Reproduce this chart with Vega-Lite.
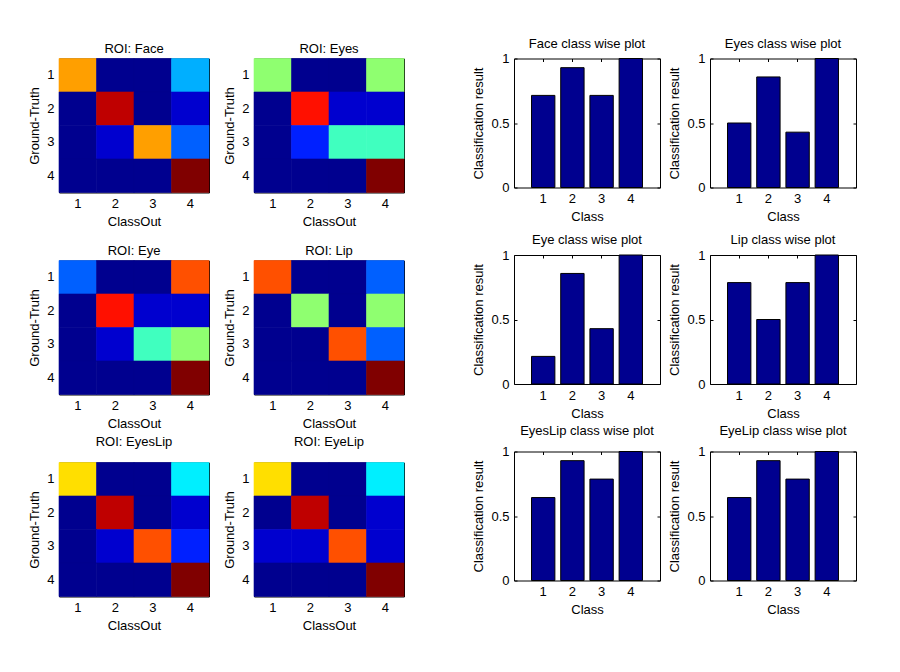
{
  "$schema": "https://vega.github.io/schema/vega-lite/v6.json",
  "background": "white",
  "padding": {"left": 28, "top": 37.5, "right": 5, "bottom": 5},
  "datasets": {
    "hm": [
      {"roi":"Face","gt":1,"out":1,"n":10},{"roi":"Face","gt":1,"out":2,"n":0},{"roi":"Face","gt":1,"out":3,"n":0},{"roi":"Face","gt":1,"out":4,"n":4},
      {"roi":"Face","gt":2,"out":1,"n":0},{"roi":"Face","gt":2,"out":2,"n":13},{"roi":"Face","gt":2,"out":3,"n":0},{"roi":"Face","gt":2,"out":4,"n":1},
      {"roi":"Face","gt":3,"out":1,"n":0},{"roi":"Face","gt":3,"out":2,"n":1},{"roi":"Face","gt":3,"out":3,"n":10},{"roi":"Face","gt":3,"out":4,"n":3},
      {"roi":"Face","gt":4,"out":1,"n":0},{"roi":"Face","gt":4,"out":2,"n":0},{"roi":"Face","gt":4,"out":3,"n":0},{"roi":"Face","gt":4,"out":4,"n":14},
      {"roi":"Eyes","gt":1,"out":1,"n":7},{"roi":"Eyes","gt":1,"out":2,"n":0},{"roi":"Eyes","gt":1,"out":3,"n":0},{"roi":"Eyes","gt":1,"out":4,"n":7},
      {"roi":"Eyes","gt":2,"out":1,"n":0},{"roi":"Eyes","gt":2,"out":2,"n":12},{"roi":"Eyes","gt":2,"out":3,"n":1},{"roi":"Eyes","gt":2,"out":4,"n":1},
      {"roi":"Eyes","gt":3,"out":1,"n":0},{"roi":"Eyes","gt":3,"out":2,"n":2},{"roi":"Eyes","gt":3,"out":3,"n":6},{"roi":"Eyes","gt":3,"out":4,"n":6},
      {"roi":"Eyes","gt":4,"out":1,"n":0},{"roi":"Eyes","gt":4,"out":2,"n":0},{"roi":"Eyes","gt":4,"out":3,"n":0},{"roi":"Eyes","gt":4,"out":4,"n":14},
      {"roi":"Eye","gt":1,"out":1,"n":3},{"roi":"Eye","gt":1,"out":2,"n":0},{"roi":"Eye","gt":1,"out":3,"n":0},{"roi":"Eye","gt":1,"out":4,"n":11},
      {"roi":"Eye","gt":2,"out":1,"n":0},{"roi":"Eye","gt":2,"out":2,"n":12},{"roi":"Eye","gt":2,"out":3,"n":1},{"roi":"Eye","gt":2,"out":4,"n":1},
      {"roi":"Eye","gt":3,"out":1,"n":0},{"roi":"Eye","gt":3,"out":2,"n":1},{"roi":"Eye","gt":3,"out":3,"n":6},{"roi":"Eye","gt":3,"out":4,"n":7},
      {"roi":"Eye","gt":4,"out":1,"n":0},{"roi":"Eye","gt":4,"out":2,"n":0},{"roi":"Eye","gt":4,"out":3,"n":0},{"roi":"Eye","gt":4,"out":4,"n":14},
      {"roi":"Lip","gt":1,"out":1,"n":11},{"roi":"Lip","gt":1,"out":2,"n":0},{"roi":"Lip","gt":1,"out":3,"n":0},{"roi":"Lip","gt":1,"out":4,"n":3},
      {"roi":"Lip","gt":2,"out":1,"n":0},{"roi":"Lip","gt":2,"out":2,"n":7},{"roi":"Lip","gt":2,"out":3,"n":0},{"roi":"Lip","gt":2,"out":4,"n":7},
      {"roi":"Lip","gt":3,"out":1,"n":0},{"roi":"Lip","gt":3,"out":2,"n":0},{"roi":"Lip","gt":3,"out":3,"n":11},{"roi":"Lip","gt":3,"out":4,"n":3},
      {"roi":"Lip","gt":4,"out":1,"n":0},{"roi":"Lip","gt":4,"out":2,"n":0},{"roi":"Lip","gt":4,"out":3,"n":0},{"roi":"Lip","gt":4,"out":4,"n":14},
      {"roi":"EyesLip","gt":1,"out":1,"n":9},{"roi":"EyesLip","gt":1,"out":2,"n":0},{"roi":"EyesLip","gt":1,"out":3,"n":0},{"roi":"EyesLip","gt":1,"out":4,"n":5},
      {"roi":"EyesLip","gt":2,"out":1,"n":0},{"roi":"EyesLip","gt":2,"out":2,"n":13},{"roi":"EyesLip","gt":2,"out":3,"n":0},{"roi":"EyesLip","gt":2,"out":4,"n":1},
      {"roi":"EyesLip","gt":3,"out":1,"n":0},{"roi":"EyesLip","gt":3,"out":2,"n":1},{"roi":"EyesLip","gt":3,"out":3,"n":11},{"roi":"EyesLip","gt":3,"out":4,"n":2},
      {"roi":"EyesLip","gt":4,"out":1,"n":0},{"roi":"EyesLip","gt":4,"out":2,"n":0},{"roi":"EyesLip","gt":4,"out":3,"n":0},{"roi":"EyesLip","gt":4,"out":4,"n":14},
      {"roi":"EyeLip","gt":1,"out":1,"n":9},{"roi":"EyeLip","gt":1,"out":2,"n":0},{"roi":"EyeLip","gt":1,"out":3,"n":0},{"roi":"EyeLip","gt":1,"out":4,"n":5},
      {"roi":"EyeLip","gt":2,"out":1,"n":0},{"roi":"EyeLip","gt":2,"out":2,"n":13},{"roi":"EyeLip","gt":2,"out":3,"n":0},{"roi":"EyeLip","gt":2,"out":4,"n":1},
      {"roi":"EyeLip","gt":3,"out":1,"n":1},{"roi":"EyeLip","gt":3,"out":2,"n":1},{"roi":"EyeLip","gt":3,"out":3,"n":11},{"roi":"EyeLip","gt":3,"out":4,"n":1},
      {"roi":"EyeLip","gt":4,"out":1,"n":0},{"roi":"EyeLip","gt":4,"out":2,"n":0},{"roi":"EyeLip","gt":4,"out":3,"n":0},{"roi":"EyeLip","gt":4,"out":4,"n":14}
    ],
    "bars": [
      {"roi":"Face","cls":1,"v":0.714},{"roi":"Face","cls":2,"v":0.929},{"roi":"Face","cls":3,"v":0.714},{"roi":"Face","cls":4,"v":1},
      {"roi":"Eyes","cls":1,"v":0.5},{"roi":"Eyes","cls":2,"v":0.857},{"roi":"Eyes","cls":3,"v":0.429},{"roi":"Eyes","cls":4,"v":1},
      {"roi":"Eye","cls":1,"v":0.214},{"roi":"Eye","cls":2,"v":0.857},{"roi":"Eye","cls":3,"v":0.429},{"roi":"Eye","cls":4,"v":1},
      {"roi":"Lip","cls":1,"v":0.786},{"roi":"Lip","cls":2,"v":0.5},{"roi":"Lip","cls":3,"v":0.786},{"roi":"Lip","cls":4,"v":1},
      {"roi":"EyesLip","cls":1,"v":0.643},{"roi":"EyesLip","cls":2,"v":0.929},{"roi":"EyesLip","cls":3,"v":0.786},{"roi":"EyesLip","cls":4,"v":1},
      {"roi":"EyeLip","cls":1,"v":0.643},{"roi":"EyeLip","cls":2,"v":0.929},{"roi":"EyeLip","cls":3,"v":0.786},{"roi":"EyeLip","cls":4,"v":1}
    ]
  },
  "spacing": 67,
  "hconcat": [
    {
      "columns": 2,
      "spacing": {"row": 68, "column": 45},
      "bounds": "flush",
      "concat": [
          {"title": "ROI: Face", "width": 150, "height": 134, "data": {"name": "hm"}, "transform": [{"filter": "datum.roi === 'Face'"}],
           "layer": [
             {"mark": {"type": "rect", "strokeWidth": 0.6}, "encoding": {
               "x": {"field": "out", "type": "ordinal", "title": "ClassOut", "scale": {"paddingInner": 0, "paddingOuter": 0}, "axis": {"labelAngle": 0, "ticks": false}},
               "y": {"field": "gt", "type": "ordinal", "title": "Ground-Truth", "scale": {"paddingInner": 0, "paddingOuter": 0}, "axis": {"ticks": false}},
               "color": {"field": "n", "type": "ordinal", "scale": {"domain": [0,1,2,3,4,5,6,7,8,9,10,11,12,13,14], "range": ["#00008f","#0000cf","#0020ff","#0060ff","#00afff","#00efff","#40ffbf","#8fff70","#cfff30","#ffdf00","#ff9f00","#ff5000","#ff1000","#bf0000","#800000"]}, "legend": null},
               "stroke": {"field": "n", "type": "ordinal", "scale": {"domain": [0,1,2,3,4,5,6,7,8,9,10,11,12,13,14], "range": ["#00008f","#0000cf","#0020ff","#0060ff","#00afff","#00efff","#40ffbf","#8fff70","#cfff30","#ffdf00","#ff9f00","#ff5000","#ff1000","#bf0000","#800000"]}, "legend": null}}},
             {"mark": {"type": "rect", "opacity": 0}, "encoding": {
               "x": {"field": "out", "type": "ordinal", "axis": {"orient": "top", "labels": false, "ticks": false, "title": null}},
               "y": {"field": "gt", "type": "ordinal", "axis": {"orient": "right", "labels": false, "ticks": false, "title": null}}}}
           ],
           "resolve": {"axis": {"x": "independent", "y": "independent"}}},
          {"title": "ROI: Eyes", "width": 150, "height": 134, "data": {"name": "hm"}, "transform": [{"filter": "datum.roi === 'Eyes'"}],
           "layer": [
             {"mark": {"type": "rect", "strokeWidth": 0.6}, "encoding": {
               "x": {"field": "out", "type": "ordinal", "title": "ClassOut", "scale": {"paddingInner": 0, "paddingOuter": 0}, "axis": {"labelAngle": 0, "ticks": false}},
               "y": {"field": "gt", "type": "ordinal", "title": "Ground-Truth", "scale": {"paddingInner": 0, "paddingOuter": 0}, "axis": {"ticks": false}},
               "color": {"field": "n", "type": "ordinal", "scale": {"domain": [0,1,2,3,4,5,6,7,8,9,10,11,12,13,14], "range": ["#00008f","#0000cf","#0020ff","#0060ff","#00afff","#00efff","#40ffbf","#8fff70","#cfff30","#ffdf00","#ff9f00","#ff5000","#ff1000","#bf0000","#800000"]}, "legend": null},
               "stroke": {"field": "n", "type": "ordinal", "scale": {"domain": [0,1,2,3,4,5,6,7,8,9,10,11,12,13,14], "range": ["#00008f","#0000cf","#0020ff","#0060ff","#00afff","#00efff","#40ffbf","#8fff70","#cfff30","#ffdf00","#ff9f00","#ff5000","#ff1000","#bf0000","#800000"]}, "legend": null}}},
             {"mark": {"type": "rect", "opacity": 0}, "encoding": {
               "x": {"field": "out", "type": "ordinal", "axis": {"orient": "top", "labels": false, "ticks": false, "title": null}},
               "y": {"field": "gt", "type": "ordinal", "axis": {"orient": "right", "labels": false, "ticks": false, "title": null}}}}
           ],
           "resolve": {"axis": {"x": "independent", "y": "independent"}}},
          {"title": "ROI: Eye", "width": 150, "height": 134, "data": {"name": "hm"}, "transform": [{"filter": "datum.roi === 'Eye'"}],
           "layer": [
             {"mark": {"type": "rect", "strokeWidth": 0.6}, "encoding": {
               "x": {"field": "out", "type": "ordinal", "title": "ClassOut", "scale": {"paddingInner": 0, "paddingOuter": 0}, "axis": {"labelAngle": 0, "ticks": false}},
               "y": {"field": "gt", "type": "ordinal", "title": "Ground-Truth", "scale": {"paddingInner": 0, "paddingOuter": 0}, "axis": {"ticks": false}},
               "color": {"field": "n", "type": "ordinal", "scale": {"domain": [0,1,2,3,4,5,6,7,8,9,10,11,12,13,14], "range": ["#00008f","#0000cf","#0020ff","#0060ff","#00afff","#00efff","#40ffbf","#8fff70","#cfff30","#ffdf00","#ff9f00","#ff5000","#ff1000","#bf0000","#800000"]}, "legend": null},
               "stroke": {"field": "n", "type": "ordinal", "scale": {"domain": [0,1,2,3,4,5,6,7,8,9,10,11,12,13,14], "range": ["#00008f","#0000cf","#0020ff","#0060ff","#00afff","#00efff","#40ffbf","#8fff70","#cfff30","#ffdf00","#ff9f00","#ff5000","#ff1000","#bf0000","#800000"]}, "legend": null}}},
             {"mark": {"type": "rect", "opacity": 0}, "encoding": {
               "x": {"field": "out", "type": "ordinal", "axis": {"orient": "top", "labels": false, "ticks": false, "title": null}},
               "y": {"field": "gt", "type": "ordinal", "axis": {"orient": "right", "labels": false, "ticks": false, "title": null}}}}
           ],
           "resolve": {"axis": {"x": "independent", "y": "independent"}}},
          {"title": "ROI: Lip", "width": 150, "height": 134, "data": {"name": "hm"}, "transform": [{"filter": "datum.roi === 'Lip'"}],
           "layer": [
             {"mark": {"type": "rect", "strokeWidth": 0.6}, "encoding": {
               "x": {"field": "out", "type": "ordinal", "title": "ClassOut", "scale": {"paddingInner": 0, "paddingOuter": 0}, "axis": {"labelAngle": 0, "ticks": false}},
               "y": {"field": "gt", "type": "ordinal", "title": "Ground-Truth", "scale": {"paddingInner": 0, "paddingOuter": 0}, "axis": {"ticks": false}},
               "color": {"field": "n", "type": "ordinal", "scale": {"domain": [0,1,2,3,4,5,6,7,8,9,10,11,12,13,14], "range": ["#00008f","#0000cf","#0020ff","#0060ff","#00afff","#00efff","#40ffbf","#8fff70","#cfff30","#ffdf00","#ff9f00","#ff5000","#ff1000","#bf0000","#800000"]}, "legend": null},
               "stroke": {"field": "n", "type": "ordinal", "scale": {"domain": [0,1,2,3,4,5,6,7,8,9,10,11,12,13,14], "range": ["#00008f","#0000cf","#0020ff","#0060ff","#00afff","#00efff","#40ffbf","#8fff70","#cfff30","#ffdf00","#ff9f00","#ff5000","#ff1000","#bf0000","#800000"]}, "legend": null}}},
             {"mark": {"type": "rect", "opacity": 0}, "encoding": {
               "x": {"field": "out", "type": "ordinal", "axis": {"orient": "top", "labels": false, "ticks": false, "title": null}},
               "y": {"field": "gt", "type": "ordinal", "axis": {"orient": "right", "labels": false, "ticks": false, "title": null}}}}
           ],
           "resolve": {"axis": {"x": "independent", "y": "independent"}}},
          {"title": {"text": "ROI: EyesLip", "offset": 13}, "width": 150, "height": 134, "data": {"name": "hm"}, "transform": [{"filter": "datum.roi === 'EyesLip'"}],
           "layer": [
             {"mark": {"type": "rect", "strokeWidth": 0.6}, "encoding": {
               "x": {"field": "out", "type": "ordinal", "title": "ClassOut", "scale": {"paddingInner": 0, "paddingOuter": 0}, "axis": {"labelAngle": 0, "ticks": false}},
               "y": {"field": "gt", "type": "ordinal", "title": "Ground-Truth", "scale": {"paddingInner": 0, "paddingOuter": 0}, "axis": {"ticks": false}},
               "color": {"field": "n", "type": "ordinal", "scale": {"domain": [0,1,2,3,4,5,6,7,8,9,10,11,12,13,14], "range": ["#00008f","#0000cf","#0020ff","#0060ff","#00afff","#00efff","#40ffbf","#8fff70","#cfff30","#ffdf00","#ff9f00","#ff5000","#ff1000","#bf0000","#800000"]}, "legend": null},
               "stroke": {"field": "n", "type": "ordinal", "scale": {"domain": [0,1,2,3,4,5,6,7,8,9,10,11,12,13,14], "range": ["#00008f","#0000cf","#0020ff","#0060ff","#00afff","#00efff","#40ffbf","#8fff70","#cfff30","#ffdf00","#ff9f00","#ff5000","#ff1000","#bf0000","#800000"]}, "legend": null}}},
             {"mark": {"type": "rect", "opacity": 0}, "encoding": {
               "x": {"field": "out", "type": "ordinal", "axis": {"orient": "top", "labels": false, "ticks": false, "title": null}},
               "y": {"field": "gt", "type": "ordinal", "axis": {"orient": "right", "labels": false, "ticks": false, "title": null}}}}
           ],
           "resolve": {"axis": {"x": "independent", "y": "independent"}}},
          {"title": {"text": "ROI: EyeLip", "offset": 13}, "width": 150, "height": 134, "data": {"name": "hm"}, "transform": [{"filter": "datum.roi === 'EyeLip'"}],
           "layer": [
             {"mark": {"type": "rect", "strokeWidth": 0.6}, "encoding": {
               "x": {"field": "out", "type": "ordinal", "title": "ClassOut", "scale": {"paddingInner": 0, "paddingOuter": 0}, "axis": {"labelAngle": 0, "ticks": false}},
               "y": {"field": "gt", "type": "ordinal", "title": "Ground-Truth", "scale": {"paddingInner": 0, "paddingOuter": 0}, "axis": {"ticks": false}},
               "color": {"field": "n", "type": "ordinal", "scale": {"domain": [0,1,2,3,4,5,6,7,8,9,10,11,12,13,14], "range": ["#00008f","#0000cf","#0020ff","#0060ff","#00afff","#00efff","#40ffbf","#8fff70","#cfff30","#ffdf00","#ff9f00","#ff5000","#ff1000","#bf0000","#800000"]}, "legend": null},
               "stroke": {"field": "n", "type": "ordinal", "scale": {"domain": [0,1,2,3,4,5,6,7,8,9,10,11,12,13,14], "range": ["#00008f","#0000cf","#0020ff","#0060ff","#00afff","#00efff","#40ffbf","#8fff70","#cfff30","#ffdf00","#ff9f00","#ff5000","#ff1000","#bf0000","#800000"]}, "legend": null}}},
             {"mark": {"type": "rect", "opacity": 0}, "encoding": {
               "x": {"field": "out", "type": "ordinal", "axis": {"orient": "top", "labels": false, "ticks": false, "title": null}},
               "y": {"field": "gt", "type": "ordinal", "axis": {"orient": "right", "labels": false, "ticks": false, "title": null}}}}
           ],
           "resolve": {"axis": {"x": "independent", "y": "independent"}}}
      ]
    },
    {
      "columns": 2,
      "spacing": {"row": 67.5, "column": 50},
      "bounds": "flush",
      "concat": [
          {"title": "Face class wise plot", "width": 146, "height": 129, "data": {"name": "bars"}, "transform": [{"filter": "datum.roi === 'Face'"}],
           "layer": [
             {"mark": {"type": "bar", "fill": "#00008f", "stroke": "black", "strokeWidth": 1}, "encoding": {
               "x": {"field": "cls", "type": "ordinal", "title": "Class", "scale": {"paddingInner": 0.2, "paddingOuter": 0.6}, "axis": {"labelAngle": 0, "tickSize": -3, "labelPadding": 8}},
               "y": {"field": "v", "type": "quantitative", "title": "Classification result", "scale": {"domain": [0, 1]}, "axis": {"values": [0, 0.5, 1], "format": "~g", "tickSize": -3, "labelPadding": 8}}}},
             {"mark": {"type": "bar", "opacity": 0}, "encoding": {
               "x": {"field": "cls", "type": "ordinal", "axis": {"orient": "top", "labels": false, "title": null, "tickSize": -3}},
               "y": {"field": "v", "type": "quantitative", "axis": {"orient": "right", "labels": false, "title": null, "values": [0, 0.5, 1], "tickSize": -3}}}}
           ],
           "resolve": {"axis": {"x": "independent", "y": "independent"}}},
          {"title": "Eyes class wise plot", "width": 146, "height": 129, "data": {"name": "bars"}, "transform": [{"filter": "datum.roi === 'Eyes'"}],
           "layer": [
             {"mark": {"type": "bar", "fill": "#00008f", "stroke": "black", "strokeWidth": 1}, "encoding": {
               "x": {"field": "cls", "type": "ordinal", "title": "Class", "scale": {"paddingInner": 0.2, "paddingOuter": 0.6}, "axis": {"labelAngle": 0, "tickSize": -3, "labelPadding": 8}},
               "y": {"field": "v", "type": "quantitative", "title": "Classification result", "scale": {"domain": [0, 1]}, "axis": {"values": [0, 0.5, 1], "format": "~g", "tickSize": -3, "labelPadding": 8}}}},
             {"mark": {"type": "bar", "opacity": 0}, "encoding": {
               "x": {"field": "cls", "type": "ordinal", "axis": {"orient": "top", "labels": false, "title": null, "tickSize": -3}},
               "y": {"field": "v", "type": "quantitative", "axis": {"orient": "right", "labels": false, "title": null, "values": [0, 0.5, 1], "tickSize": -3}}}}
           ],
           "resolve": {"axis": {"x": "independent", "y": "independent"}}},
          {"title": "Eye class wise plot", "width": 146, "height": 129, "data": {"name": "bars"}, "transform": [{"filter": "datum.roi === 'Eye'"}],
           "layer": [
             {"mark": {"type": "bar", "fill": "#00008f", "stroke": "black", "strokeWidth": 1}, "encoding": {
               "x": {"field": "cls", "type": "ordinal", "title": "Class", "scale": {"paddingInner": 0.2, "paddingOuter": 0.6}, "axis": {"labelAngle": 0, "tickSize": -3, "labelPadding": 8}},
               "y": {"field": "v", "type": "quantitative", "title": "Classification result", "scale": {"domain": [0, 1]}, "axis": {"values": [0, 0.5, 1], "format": "~g", "tickSize": -3, "labelPadding": 8}}}},
             {"mark": {"type": "bar", "opacity": 0}, "encoding": {
               "x": {"field": "cls", "type": "ordinal", "axis": {"orient": "top", "labels": false, "title": null, "tickSize": -3}},
               "y": {"field": "v", "type": "quantitative", "axis": {"orient": "right", "labels": false, "title": null, "values": [0, 0.5, 1], "tickSize": -3}}}}
           ],
           "resolve": {"axis": {"x": "independent", "y": "independent"}}},
          {"title": "Lip class wise plot", "width": 146, "height": 129, "data": {"name": "bars"}, "transform": [{"filter": "datum.roi === 'Lip'"}],
           "layer": [
             {"mark": {"type": "bar", "fill": "#00008f", "stroke": "black", "strokeWidth": 1}, "encoding": {
               "x": {"field": "cls", "type": "ordinal", "title": "Class", "scale": {"paddingInner": 0.2, "paddingOuter": 0.6}, "axis": {"labelAngle": 0, "tickSize": -3, "labelPadding": 8}},
               "y": {"field": "v", "type": "quantitative", "title": "Classification result", "scale": {"domain": [0, 1]}, "axis": {"values": [0, 0.5, 1], "format": "~g", "tickSize": -3, "labelPadding": 8}}}},
             {"mark": {"type": "bar", "opacity": 0}, "encoding": {
               "x": {"field": "cls", "type": "ordinal", "axis": {"orient": "top", "labels": false, "title": null, "tickSize": -3}},
               "y": {"field": "v", "type": "quantitative", "axis": {"orient": "right", "labels": false, "title": null, "values": [0, 0.5, 1], "tickSize": -3}}}}
           ],
           "resolve": {"axis": {"x": "independent", "y": "independent"}}},
          {"title": {"text": "EyesLip class wise plot", "offset": 8}, "width": 146, "height": 129, "data": {"name": "bars"}, "transform": [{"filter": "datum.roi === 'EyesLip'"}],
           "layer": [
             {"mark": {"type": "bar", "fill": "#00008f", "stroke": "black", "strokeWidth": 1}, "encoding": {
               "x": {"field": "cls", "type": "ordinal", "title": "Class", "scale": {"paddingInner": 0.2, "paddingOuter": 0.6}, "axis": {"labelAngle": 0, "tickSize": -3, "labelPadding": 8}},
               "y": {"field": "v", "type": "quantitative", "title": "Classification result", "scale": {"domain": [0, 1]}, "axis": {"values": [0, 0.5, 1], "format": "~g", "tickSize": -3, "labelPadding": 8}}}},
             {"mark": {"type": "bar", "opacity": 0}, "encoding": {
               "x": {"field": "cls", "type": "ordinal", "axis": {"orient": "top", "labels": false, "title": null, "tickSize": -3}},
               "y": {"field": "v", "type": "quantitative", "axis": {"orient": "right", "labels": false, "title": null, "values": [0, 0.5, 1], "tickSize": -3}}}}
           ],
           "resolve": {"axis": {"x": "independent", "y": "independent"}}},
          {"title": {"text": "EyeLip class wise plot", "offset": 8}, "width": 146, "height": 129, "data": {"name": "bars"}, "transform": [{"filter": "datum.roi === 'EyeLip'"}],
           "layer": [
             {"mark": {"type": "bar", "fill": "#00008f", "stroke": "black", "strokeWidth": 1}, "encoding": {
               "x": {"field": "cls", "type": "ordinal", "title": "Class", "scale": {"paddingInner": 0.2, "paddingOuter": 0.6}, "axis": {"labelAngle": 0, "tickSize": -3, "labelPadding": 8}},
               "y": {"field": "v", "type": "quantitative", "title": "Classification result", "scale": {"domain": [0, 1]}, "axis": {"values": [0, 0.5, 1], "format": "~g", "tickSize": -3, "labelPadding": 8}}}},
             {"mark": {"type": "bar", "opacity": 0}, "encoding": {
               "x": {"field": "cls", "type": "ordinal", "axis": {"orient": "top", "labels": false, "title": null, "tickSize": -3}},
               "y": {"field": "v", "type": "quantitative", "axis": {"orient": "right", "labels": false, "title": null, "values": [0, 0.5, 1], "tickSize": -3}}}}
           ],
           "resolve": {"axis": {"x": "independent", "y": "independent"}}}
      ]
    }
  ],
  "config": {
    "view": {"stroke": null},
    "font": "Liberation Sans",
    "axis": {"domainColor": "black", "domainWidth": 1, "tickColor": "black", "tickWidth": 1, "labelColor": "black", "titleColor": "black", "labelFont": "Liberation Sans", "titleFont": "Liberation Sans", "labelFontSize": 13, "titleFontSize": 13, "titleFontWeight": "normal", "grid": false, "zindex": 1, "labelPadding": 5, "titlePadding": 5, "minExtent": 0},
    "title": {"font": "Liberation Sans", "fontSize": 13, "fontWeight": "normal", "color": "black", "offset": 2, "frame": "group", "anchor": "middle"}
  }
}
